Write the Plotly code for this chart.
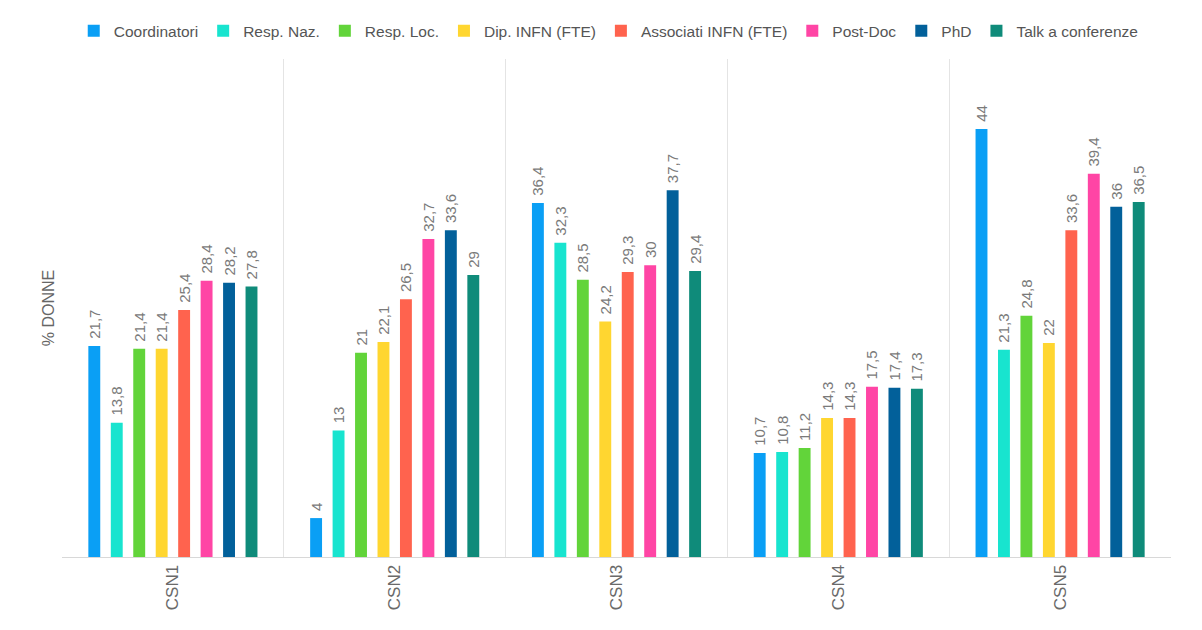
import plotly.graph_objects as go

categories = ["CSN1", "CSN2", "CSN3", "CSN4", "CSN5"]
series_names = ["Coordinatori", "Resp. Naz.", "Resp. Loc.", "Dip. INFN (FTE)",
                "Associati INFN (FTE)", "Post-Doc", "PhD", "Talk a conferenze"]
coordinatori = [21.7, 4, 36.4, 10.7, 44]
resp_naz = [13.8, 13, 32.3, 10.8, 21.3]
resp_loc = [21.4, 21, 28.5, 11.2, 24.8]
dip_infn = [21.4, 22.1, 24.2, 14.3, 22]
associati = [25.4, 26.5, 29.3, 14.3, 33.6]
post_doc = [28.4, 32.7, 30, 17.5, 39.4]
phd = [28.2, 33.6, 37.7, 17.4, 36]
talk = [27.8, 29, 29.4, 17.3, 36.5]
series_values = [coordinatori, resp_naz, resp_loc, dip_infn, associati, post_doc, phd, talk]
colors = ["#0A9FF5", "#18E4CF", "#62D43A", "#FFD630", "#FF634E", "#FF45A5", "#02609A", "#0F8B7A"]

def fmt(v):
    s = ("%g" % v)
    return "\u00a0" + s.replace(".", ",")

fig = go.Figure()
for name, vals, col in zip(series_names, series_values, colors):
    fig.add_trace(go.Bar(
        x=categories, y=vals, name=name, marker_color=col, marker_line_width=0,
        text=[fmt(v) for v in vals], textposition="outside", textangle=-90,
        textfont=dict(size=15, color="#7a7a7a"), cliponaxis=False,
    ))

fig.update_layout(
    width=1202, height=630,
    margin=dict(l=54, r=39, t=51, b=81, autoexpand=False),
    paper_bgcolor="white", plot_bgcolor="white",
    font=dict(family="Liberation Sans, Arial, sans-serif", color="#666666"),
    barmode="group", bargap=0.19, bargroupgap=0.47,
    uniformtext=dict(mode="show", minsize=15),
    legend=dict(orientation="h", x=0.493, xanchor="center", y=1.056, yanchor="middle",
                font=dict(size=15.5, color="#555555"), itemwidth=30, traceorder="normal",
                itemclick=False),
    xaxis=dict(tickson="boundaries", showgrid=True, gridcolor="#e4e4e4", gridwidth=1,
               ticks="", tickangle=-90, tickfont=dict(size=17, color="#6a6a6a"),
               showline=True, linecolor="#d8d8d8", linewidth=1, range=[-0.5, 4.5],
               automargin=False),
    yaxis=dict(range=[0, 51.2], showgrid=False, showticklabels=False, zeroline=False,
               automargin=False,
               title=dict(text="% DONNE", font=dict(size=16, color="#666666"), standoff=2)),
)
fig.write_html("out.html")
